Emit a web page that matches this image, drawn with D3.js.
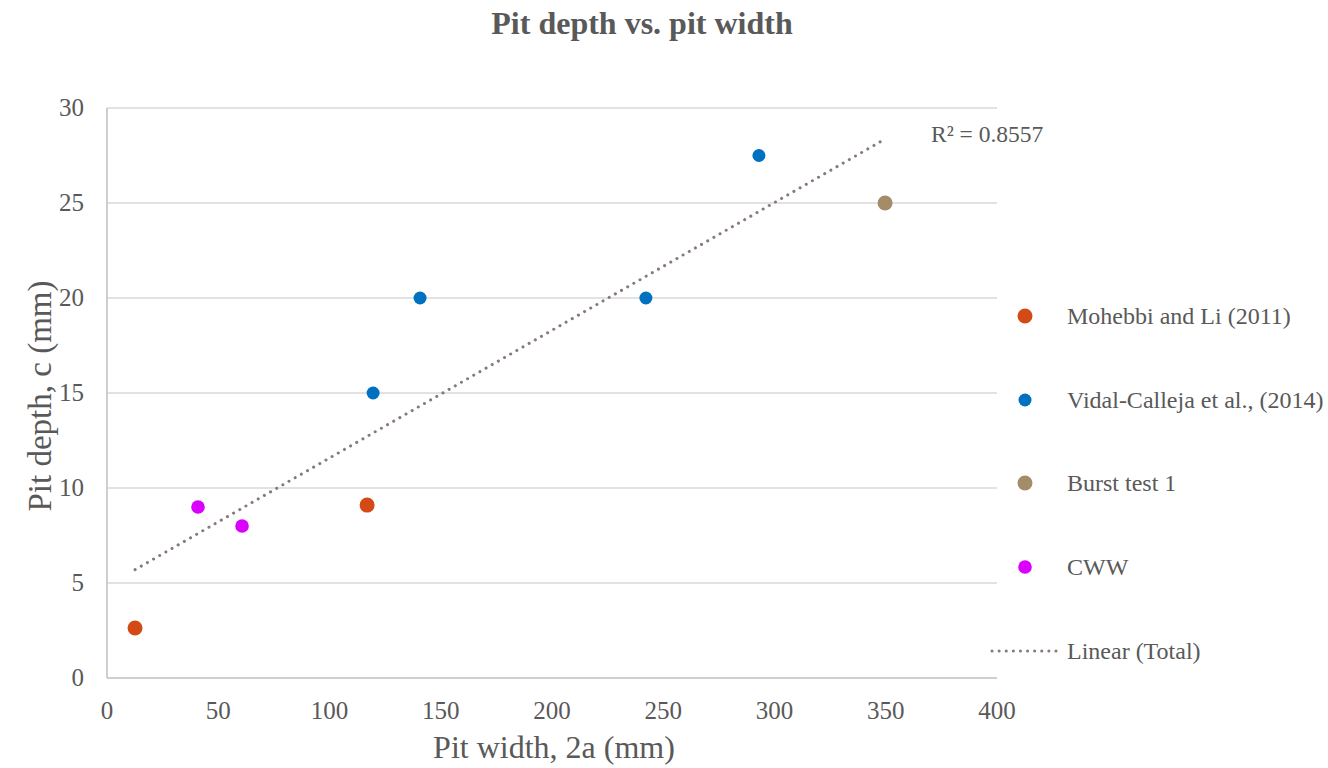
<!DOCTYPE html>
<html>
<head>
<meta charset="utf-8">
<script src="https://cdn.jsdelivr.net/npm/d3@7.9.0/dist/d3.min.js"></script>
<style>
  body { margin: 0; background: #fff; }
  svg { font-family: "Liberation Serif", "Times New Roman", serif; }
</style>
</head>
<body>
<div id="chart"></div>
<script>
// series data (pit width 2a, pit depth c)
const seriesNames = ['Mohebbi and Li (2011)', 'Vidal-Calleja et al., (2014)', 'Burst test 1', 'CWW'];
const mohebbiX = [12.6, 116.9];
const mohebbiY = [2.63, 9.1];
const vidalX = [119.6, 140.7, 242.2, 293];
const vidalY = [15, 20, 20, 27.5];
const burstX = [349.7];
const burstY = [25];
const cwwX = [40.9, 60.7];
const cwwY = [9, 8];
const xTicks = [0, 50, 100, 150, 200, 250, 300, 350, 400];
const yTicks = [0, 5, 10, 15, 20, 25, 30];
const r2Label = 'R² = 0.8557';

const colors = ['#D34A17', '#0070C0', '#A58C69', '#D900FF'];
const radii = [7.5, 6.5, 7.5, 6.8];

const width = 1328, height = 768;
const margin = { top: 108, right: 331, bottom: 90, left: 107 };
const inner = { left: margin.left, right: width - margin.right, top: margin.top, bottom: height - margin.bottom };

const svg = d3.select('#chart').append('svg')
  .attr('width', width).attr('height', height);

const xScale = d3.scaleLinear().domain([0, 400]).range([inner.left, inner.right]);
const yScale = d3.scaleLinear().domain([0, 30]).range([inner.bottom, inner.top]);

// title
svg.append('text')
  .attr('x', 642).attr('y', 34)
  .attr('text-anchor', 'middle')
  .attr('font-size', 32).attr('font-weight', 'bold')
  .attr('fill', '#595959')
  .text('Pit depth vs. pit width');

// gridlines
svg.append('g')
  .selectAll('line')
  .data(yTicks.filter(d => d > 0))
  .join('line')
  .attr('x1', inner.left).attr('x2', inner.right)
  .attr('y1', d => yScale(d)).attr('y2', d => yScale(d))
  .attr('stroke', '#d9d9d9').attr('stroke-width', 1.3);

// axis lines
svg.append('line')
  .attr('x1', inner.left).attr('x2', inner.right)
  .attr('y1', inner.bottom).attr('y2', inner.bottom)
  .attr('stroke', '#bfbfbf').attr('stroke-width', 1.5);
svg.append('line')
  .attr('x1', inner.left).attr('x2', inner.left)
  .attr('y1', inner.top).attr('y2', inner.bottom)
  .attr('stroke', '#bfbfbf').attr('stroke-width', 1.5);

// tick labels
svg.append('g')
  .selectAll('text')
  .data(xTicks)
  .join('text')
  .attr('x', d => xScale(d))
  .attr('y', inner.bottom + 41)
  .attr('text-anchor', 'middle')
  .attr('font-size', 25).attr('fill', '#595959')
  .text(d => d);

svg.append('g')
  .selectAll('text')
  .data(yTicks)
  .join('text')
  .attr('x', inner.left - 23)
  .attr('y', d => yScale(d) + 8)
  .attr('text-anchor', 'end')
  .attr('font-size', 25).attr('fill', '#595959')
  .text(d => d);

// axis titles
svg.append('text')
  .attr('x', 554).attr('y', 758)
  .attr('text-anchor', 'middle')
  .attr('font-size', 32).attr('fill', '#595959')
  .text('Pit width, 2a (mm)');

svg.append('text')
  .attr('transform', `translate(51,396) rotate(-90)`)
  .attr('text-anchor', 'middle')
  .attr('font-size', 33).attr('fill', '#595959')
  .text('Pit depth, c (mm)');

// build point table
const xs = [mohebbiX, vidalX, burstX, cwwX];
const ys = [mohebbiY, vidalY, burstY, cwwY];
const points = xs.flatMap((arr, s) => arr.map((x, i) => ({ s, x, y: ys[s][i] })));

// linear trendline over all points
const mx = d3.mean(points, d => d.x), my = d3.mean(points, d => d.y);
const slope = d3.sum(points, d => (d.x - mx) * (d.y - my)) / d3.sum(points, d => (d.x - mx) ** 2);
const intercept = my - slope * mx;
const [x0, x1] = d3.extent(points, d => d.x);

svg.append('line')
  .attr('x1', xScale(x0)).attr('y1', yScale(slope * x0 + intercept))
  .attr('x2', xScale(x1)).attr('y2', yScale(slope * x1 + intercept))
  .attr('stroke', '#877a7b').attr('stroke-width', 3)
  .attr('stroke-linecap', 'round').attr('stroke-dasharray', '0.1 7');

svg.append('text')
  .attr('x', 931).attr('y', 142)
  .attr('font-size', 23.5).attr('fill', '#595959')
  .text(r2Label);

// points
svg.append('g')
  .selectAll('circle')
  .data(points)
  .join('circle')
  .attr('cx', d => xScale(d.x))
  .attr('cy', d => yScale(d.y))
  .attr('r', d => radii[d.s])
  .attr('fill', d => colors[d.s]);

// legend
const legendY = [316, 400, 483, 567];
const legend = svg.append('g');
seriesNames.forEach((name, i) => {
  legend.append('circle')
    .attr('cx', 1025).attr('cy', legendY[i])
    .attr('r', radii[i]).attr('fill', colors[i]);
  legend.append('text')
    .attr('x', 1067).attr('y', legendY[i] + 8)
    .attr('font-size', 24).attr('fill', '#595959')
    .text(name);
});
legend.append('line')
  .attr('x1', 992).attr('x2', 1057).attr('y1', 651).attr('y2', 651)
  .attr('stroke', '#877a7b').attr('stroke-width', 3)
  .attr('stroke-linecap', 'round').attr('stroke-dasharray', '0.1 7');
legend.append('text')
  .attr('x', 1067).attr('y', 659)
  .attr('font-size', 24).attr('fill', '#595959')
  .text('Linear (Total)');
</script>
</body>
</html>
